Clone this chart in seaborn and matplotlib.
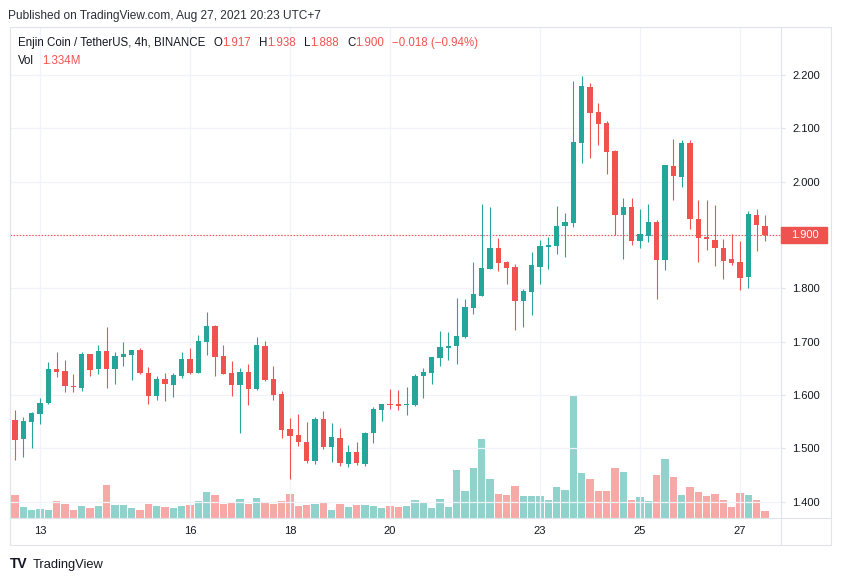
import matplotlib
matplotlib.use("Agg")
import matplotlib.pyplot as plt
import matplotlib.transforms as mtransforms
from matplotlib.patches import Rectangle
from matplotlib.lines import Line2D
import numpy as np
import pandas as pd
import seaborn as sns

# ENJ/USDT 4h candles, Aug 12 12:00 -> Aug 27 12:00 (UTC)
opens = [1.553, 1.5175, 1.549, 1.564, 1.585, 1.649, 1.645, 1.617, 1.613, 1.677,
         1.649, 1.6825, 1.649, 1.671, 1.675, 1.684, 1.641, 1.598, 1.630, 1.619,
         1.636, 1.6675, 1.641, 1.700, 1.729, 1.673, 1.641, 1.619, 1.643, 1.611,
         1.692, 1.630, 1.602, 1.536, 1.525, 1.512, 1.476, 1.555, 1.503, 1.519,
         1.471, 1.493, 1.471, 1.529, 1.5725, 1.583, 1.583, 1.581, 1.581, 1.635,
         1.642, 1.670, 1.689, 1.691, 1.709, 1.764, 1.786, 1.836, 1.8756, 1.849,
         1.840, 1.777, 1.794, 1.841, 1.878, 1.880, 1.917, 1.923, 2.073, 2.177,
         2.130, 2.110, 2.058, 1.938, 1.9525, 1.889, 1.899, 1.924, 1.854, 2.029,
         2.009, 2.0725, 1.931, 1.896, 1.891, 1.876, 1.855, 1.849, 1.822, 1.9375,
         1.917]
highs = [1.572, 1.559, 1.568, 1.594, 1.662, 1.681, 1.666, 1.639, 1.681, 1.677,
         1.694, 1.7275, 1.681, 1.699, 1.684, 1.688, 1.6525, 1.636, 1.641, 1.641,
         1.681, 1.688, 1.7125, 1.756, 1.731, 1.694, 1.664, 1.651, 1.658, 1.709,
         1.701, 1.654, 1.6075, 1.557, 1.564, 1.549, 1.559, 1.570, 1.5475, 1.538,
         1.506, 1.512, 1.531, 1.5775, 1.583, 1.611, 1.609, 1.615, 1.640, 1.651,
         1.671, 1.720, 1.718, 1.782, 1.780, 1.849, 1.958, 1.9525, 1.894, 1.851,
         1.846, 1.799, 1.868, 1.891, 1.896, 1.954, 1.941, 2.189, 2.198, 2.185,
         2.1475, 2.114, 2.060, 1.969, 1.969, 1.949, 1.958, 1.928, 2.031, 2.080,
         2.078, 2.078, 1.966, 1.966, 1.956, 1.8925, 1.902, 1.889, 1.945, 1.949,
         1.938]
lows = [1.478, 1.484, 1.501, 1.546, 1.583, 1.634, 1.606, 1.606, 1.608, 1.636,
        1.639, 1.613, 1.621, 1.654, 1.628, 1.639, 1.583, 1.591, 1.589, 1.596,
        1.632, 1.639, 1.641, 1.675, 1.636, 1.639, 1.598, 1.529, 1.581, 1.609,
        1.626, 1.591, 1.519, 1.4425, 1.504, 1.4725, 1.471, 1.499, 1.475, 1.4675,
        1.464, 1.469, 1.466, 1.509, 1.552, 1.574, 1.571, 1.563, 1.579, 1.595,
        1.621, 1.655, 1.666, 1.659, 1.706, 1.7525, 1.786, 1.836, 1.833, 1.809,
        1.721, 1.728, 1.751, 1.809, 1.837, 1.865, 1.859, 1.916, 2.036, 2.045,
        2.069, 2.015, 1.900, 1.856, 1.882, 1.876, 1.8875, 1.781, 1.835, 1.966,
        1.991, 1.912, 1.850, 1.8725, 1.8425, 1.818, 1.844, 1.7975, 1.801, 1.8705,
        1.888]
closes = [1.516, 1.551, 1.566, 1.585, 1.649, 1.643, 1.617, 1.615, 1.677, 1.647,
          1.6825, 1.649, 1.673, 1.677, 1.684, 1.641, 1.598, 1.630, 1.621, 1.6375,
          1.6675, 1.641, 1.701, 1.729, 1.671, 1.639, 1.619, 1.643, 1.611, 1.694,
          1.628, 1.600, 1.534, 1.523, 1.512, 1.476, 1.555, 1.503, 1.521, 1.473,
          1.493, 1.473, 1.529, 1.574, 1.583, 1.581, 1.579, 1.583, 1.636, 1.643,
          1.671, 1.690, 1.692, 1.711, 1.765, 1.789, 1.838, 1.8756, 1.848, 1.839,
          1.777, 1.795, 1.844, 1.879, 1.881, 1.917, 1.924, 2.074, 2.179, 2.129,
          2.109, 2.056, 1.938, 1.9525, 1.889, 1.902, 1.924, 1.854, 2.031, 2.011,
          2.0725, 1.931, 1.895, 1.893, 1.876, 1.852, 1.848, 1.820, 1.939, 1.918,
          1.900]
# volume in millions of ENJ
volumes = [4.53, 2.13, 1.53, 1.73, 1.53, 3.33, 2.73, 1.53, 2.33, 1.93,
           2.33, 6.53, 2.53, 2.53, 1.93, 1.53, 2.73, 2.33, 2.13, 1.93,
           2.33, 2.53, 3.33, 5.13, 4.53, 2.73, 3.13, 3.73, 2.73, 3.93,
           3.13, 2.73, 3.33, 4.73, 2.33, 2.53, 2.73, 2.93, 1.53, 2.73,
           2.13, 2.53, 2.53, 2.33, 1.93, 2.33, 2.13, 2.33, 3.53, 3.13,
           1.93, 3.73, 2.13, 9.53, 5.33, 9.93, 15.73, 7.73, 4.73, 4.53,
           6.33, 4.33, 4.33, 4.33, 3.53, 6.13, 5.53, 24.53, 8.93, 7.73,
           5.33, 5.33, 9.93, 9.13, 3.53, 4.13, 3.33, 8.53, 11.73, 8.13,
           4.53, 6.13, 5.13, 4.33, 4.73, 3.53, 2.13, 4.93, 4.53, 3.53,
           1.334]
day_ticks = [3, 21, 33, 45, 63, 75, 87]  # candle index of 00:00 of each day
day_labels = ['13', '16', '18', '20', '23', '25', '27']
price_ticks = [1.4, 1.5, 1.6, 1.7, 1.8, 1.9, 2.0, 2.1, 2.2]

UP = '#26a69a'
DOWN = '#ef5350'
UP_VOL = '#92d2cc'
DOWN_VOL = '#f7a9a7'
GRID = '#f0f3fa'
BORDER = '#e0e3eb'
TEXT = '#131722'

sns.set_style('white')
plt.rcParams['font.family'] = ['Liberation Sans', 'DejaVu Sans']

W, H = 841, 581
fig = plt.figure(figsize=(W / 100, H / 100), dpi=100)

rect = [10 / W, 1 - 518 / H, 771 / W, 491 / H]
ax_vol = fig.add_axes(rect)
ax = fig.add_axes(rect, sharex=ax_vol)
ax.patch.set_visible(False)

df = pd.DataFrame({'idx': np.arange(len(opens)), 'open': opens, 'high': highs,
                   'low': lows, 'close': closes, 'volume': volumes})
df['dir'] = np.where(df['close'] >= df['open'], 'up', 'down')

# volume bars (background pane)
sns.barplot(data=df, x='idx', y='volume', hue='dir', hue_order=['up', 'down'],
            palette={'up': UP_VOL, 'down': DOWN_VOL}, native_scale=True,
            dodge=False, width=0.87, saturation=1, errorbar=None, legend=False,
            linewidth=0, ax=ax_vol)
ax_vol.set_ylim(0, 98.2)
ax_vol.axis('off')

# candles
colors = [UP if d == 'up' else DOWN for d in df['dir']]
ax.vlines(df['idx'], df['low'], df['high'], colors=colors, linewidth=0.8, zorder=3)
ax.bar(df['idx'], (df['close'] - df['open']).abs(),
       bottom=df[['open', 'close']].min(axis=1), width=0.62, color=colors,
       linewidth=0, zorder=4)

last = closes[-1]
ax.axhline(last, color=DOWN, linewidth=0.8, linestyle=(0, (1.3, 1.5)), zorder=2)

ax.set_xlim(-0.6, 91.92)
ax.set_ylim(1.3692, 2.2904)
ax.set_xticks(day_ticks, day_labels)
ax.set_yticks(price_ticks, [f'{p:.3f}' for p in price_ticks])
ax.yaxis.tick_right()
ax.grid(True, color=GRID, linewidth=0.9)
ax.set_axisbelow(True)
ax.tick_params(axis='y', length=3, color=BORDER, pad=5, labelsize=8, labelcolor=TEXT)
ax.tick_params(axis='x', length=3, color=BORDER, pad=3, labelsize=8, labelcolor=TEXT)
for side in ['left', 'top']:
    ax.spines[side].set_visible(False)
for side in ['right', 'bottom']:
    ax.spines[side].set_color(BORDER)
    ax.spines[side].set_linewidth(0.8)
ax.set_xlabel('')
ax.set_ylabel('')

# last price tag on the price scale
ylo, yhi = ax.get_ylim()
ppx = (yhi - ylo) / 491
trans = mtransforms.blended_transform_factory(ax.transAxes, ax.transData)
ax.add_patch(Rectangle((1.0, last - 8 * ppx), 46 / 771, 16 * ppx, transform=trans,
                       color=DOWN, clip_on=False, zorder=5))
ax.text(1.0 + 10.5 / 771, last, f'{last:.3f}', transform=trans, color='white',
        fontsize=8, va='center', ha='left', clip_on=False, zorder=6)

# outer frame and axis separators
fig.add_artist(Rectangle((10 / W, 1 - 545 / H), 821 / W, 518 / H, transform=fig.transFigure,
                         fill=False, edgecolor=BORDER, linewidth=0.8))
fig.add_artist(Line2D([781 / W, 781 / W], [1 - 518 / H, 1 - 545 / H],
                      transform=fig.transFigure, color=BORDER, linewidth=0.8))
fig.add_artist(Line2D([781 / W, 831 / W], [1 - 518 / H, 1 - 518 / H],
                      transform=fig.transFigure, color=BORDER, linewidth=0.8))

# texts
renderer = fig.canvas.get_renderer()


def chain(pieces, x0, y0, size):
    x = x0
    for text, color, gap in pieces:
        t = fig.text(x / W, 1 - y0 / H, text, color=color, fontsize=size,
                     va='baseline', ha='left')
        x = t.get_window_extent(renderer).x1 + gap


fig.text(8 / W, 1 - 19 / H, 'Published on TradingView.com, Aug 27, 2021 20:23 UTC+7',
         color='#2a2e39', fontsize=8.6, va='baseline')

chg = closes[-1] - closes[-2]
pct = chg / closes[-2] * 100
chg_txt = f'{chg:+.3f} ({pct:+.2f}%)'.replace('-', '\u2212')
chain([('Enjin Coin / TetherUS, 4h, BINANCE', TEXT, 8),
       ('O', TEXT, 0), (f'{opens[-1]:.3f}', DOWN, 8),
       ('H', TEXT, 0), (f'{highs[-1]:.3f}', DOWN, 8),
       ('L', TEXT, 0), (f'{lows[-1]:.3f}', DOWN, 8),
       ('C', TEXT, 0), (f'{closes[-1]:.3f}', DOWN, 8),
       (chg_txt, DOWN, 0)], 18, 45.7, 8.3)
chain([('Vol', TEXT, 8), (f'{volumes[-1]:.3f}M', DOWN, 0)], 18, 64, 8.3)

fig.text(10 / W, 1 - 568 / H, 'TV', color=TEXT, fontsize=10, fontweight='heavy',
         va='baseline')
fig.text(33 / W, 1 - 568 / H, 'TradingView', color=TEXT, fontsize=9.3, va='baseline')

fig.savefig('out.png', dpi=100)
